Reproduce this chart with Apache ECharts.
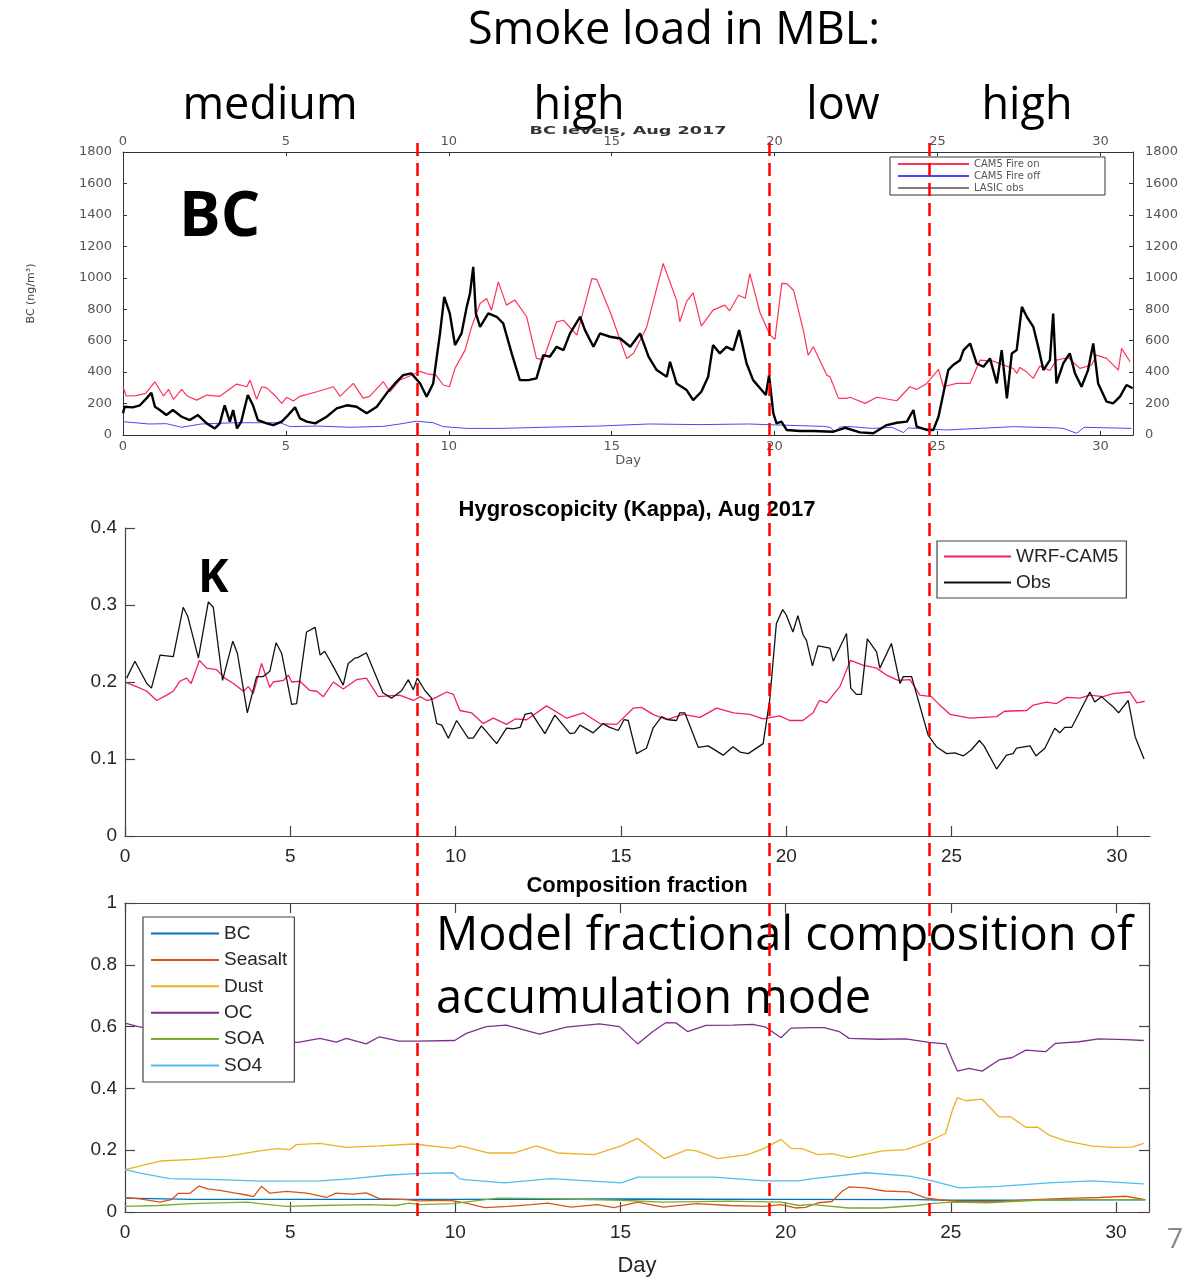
<!DOCTYPE html>
<html>
<head>
<meta charset="utf-8">
<title>BC, Kappa and composition, Aug 2017</title>
<script src="https://cdn.jsdelivr.net/npm/echarts@6/dist/echarts.min.js"></script>
<style>
  html, body { margin: 0; padding: 0; background: #fff; }
  #chart { width: 1196px; height: 1281px; }
</style>
</head>
<body>
<div id="chart"></div>
<script>
// ---- data: [day of Aug 2017, value] ----
const dayTicks = [0, 5, 10, 15, 20, 25, 30];
const smokeBreaks = [8.83, 19.48, 24.32];   // days where the smoke regime changes
const smokeLabels = ["medium", "high", "low", "high"];

// BC (ng/m3)
const bcFireOn = [[0,307],[0.1,248],[0.4,250],[0.7,265],[0.98,339],[1.24,248],[1.4,290],[1.55,227],[1.8,290],[1.96,250],[2.26,222],[2.57,254],[2.97,246],[3.49,324],[3.8,307],[3.9,349],[4.1,227],[4.26,307],[4.41,300],[4.67,250],[4.87,201],[5.02,240],[5.23,216],[5.43,246],[5.95,275],[6.46,307],[6.66,246],[7.07,328],[7.37,235],[7.57,246],[7.99,339],[8.19,275],[8.5,350],[8.8,375],[9.12,405],[9.4,385],[9.6,382],[9.83,318],[10.02,307],[10.19,424],[10.5,540],[10.7,688],[10.96,836],[11.16,868],[11.31,794],[11.52,974],[11.77,826],[12.03,858],[12.39,752],[12.69,487],[12.9,480],[13.31,720],[13.52,730],[13.93,635],[14.39,995],[14.54,990],[14.95,784],[15.46,487],[15.67,520],[16.07,684],[16.58,1091],[16.99,858],[17.09,720],[17.3,850],[17.5,904],[17.75,692],[18.11,794],[18.47,826],[18.62,790],[18.89,889],[19.1,870],[19.24,1027],[19.55,779],[19.86,635],[20.01,608],[20.22,964],[20.37,963],[20.58,921],[20.88,667],[21.03,508],[21.19,561],[21.6,381],[21.7,370],[21.96,233],[22.21,233],[22.31,240],[22.78,201],[23.14,240],[23.75,218],[24.15,307],[24.36,290],[24.67,328],[25.03,417],[25.18,307],[25.59,328],[26.0,328],[26.3,476],[26.71,470],[27.02,445],[27.33,423],[27.43,392],[27.53,430],[27.74,400],[27.94,360],[28.14,438],[28.45,410],[28.65,476],[29.01,493],[29.37,424],[29.73,445],[29.88,508],[30.19,487],[30.55,413],[30.65,551],[30.91,466]];
const bcFireOff = [[0,85],[0.8,70],[1.33,72],[1.8,49],[2.4,70],[3.4,78],[4.2,78],[4.83,78],[5.13,53],[5.95,57],[6.97,49],[7.99,55],[8.5,70],[9.0,88],[9.52,78],[9.83,53],[10.55,42],[11.57,42],[13.1,50],[14.6,57],[16.15,70],[17.67,66],[19.2,70],[20.2,63],[21.5,55],[21.7,49],[21.85,21],[22.0,50],[22.21,55],[23.0,42],[23.6,49],[23.96,15],[24.1,45],[24.4,42],[25.28,32],[27.33,53],[28.7,45],[28.86,42],[29.27,11],[29.5,49],[30.95,42]];
const bcObs = [[0,138],[0.05,180],[0.3,176],[0.52,189],[0.72,233],[0.87,269],[0.98,180],[1.13,159],[1.33,127],[1.53,159],[1.8,116],[2.05,95],[2.3,127],[2.57,74],[2.82,42],[2.97,74],[3.12,189],[3.28,85],[3.38,159],[3.5,42],[3.63,85],[3.83,254],[3.99,189],[4.14,95],[4.41,74],[4.61,63],[4.87,85],[5.07,127],[5.28,176],[5.43,106],[5.64,85],[5.9,74],[6.25,116],[6.56,169],[6.87,189],[7.17,180],[7.48,138],[7.79,180],[8.09,265],[8.35,328],[8.6,381],[8.85,392],[9.12,328],[9.32,243],[9.52,328],[9.73,646],[9.86,879],[10.03,773],[10.19,572],[10.39,646],[10.55,815],[10.65,900],[10.75,1069],[10.83,773],[10.96,688],[11.21,773],[11.47,752],[11.67,710],[11.93,519],[12.18,349],[12.44,349],[12.69,360],[12.9,508],[13.1,498],[13.31,561],[13.52,540],[13.72,646],[14.03,752],[14.18,667],[14.44,561],[14.64,646],[14.95,625],[15.26,614],[15.57,561],[15.87,646],[16.13,498],[16.38,413],[16.69,371],[16.79,466],[16.99,328],[17.3,286],[17.5,222],[17.75,275],[17.96,371],[18.11,572],[18.32,519],[18.52,561],[18.73,540],[18.91,667],[19.14,455],[19.34,349],[19.6,286],[19.73,254],[19.83,381],[19.96,138],[20.06,74],[20.21,85],[20.37,32],[20.78,25],[21.19,25],[21.8,21],[22.16,46],[22.62,17],[23.03,11],[23.44,63],[23.75,78],[24.06,85],[24.26,159],[24.36,53],[24.67,32],[24.87,32],[25.03,116],[25.18,265],[25.33,413],[25.48,445],[25.69,476],[25.8,540],[26.0,582],[26.2,455],[26.41,434],[26.61,487],[26.82,328],[26.97,540],[27.13,233],[27.28,519],[27.43,540],[27.59,815],[27.74,752],[27.94,688],[28.09,561],[28.25,413],[28.45,476],[28.55,773],[28.65,328],[28.86,455],[29.06,519],[29.22,392],[29.42,307],[29.62,413],[29.78,582],[29.93,328],[30.19,212],[30.39,201],[30.6,244],[30.8,318],[30.99,297]];

// Kappa
const kappaModel = [[0.05,0.199],[0.35,0.194],[0.66,0.188],[0.96,0.176],[1.26,0.183],[1.46,0.188],[1.66,0.201],[1.86,0.205],[2.0,0.198],[2.25,0.228],[2.47,0.218],[2.77,0.216],[3.02,0.205],[3.28,0.198],[3.58,0.188],[3.73,0.194],[3.88,0.185],[4.13,0.224],[4.38,0.193],[4.48,0.2],[4.79,0.202],[4.94,0.209],[5.04,0.2],[5.29,0.201],[5.59,0.189],[5.8,0.188],[6.0,0.181],[6.3,0.2],[6.6,0.191],[7.0,0.203],[7.3,0.205],[7.66,0.181],[7.96,0.182],[8.3,0.183],[8.73,0.176],[8.93,0.181],[9.13,0.176],[9.32,0.178],[9.73,0.187],[9.93,0.184],[10.13,0.163],[10.48,0.16],[10.83,0.146],[11.14,0.153],[11.54,0.145],[11.8,0.152],[12.15,0.151],[12.75,0.169],[13.36,0.153],[13.86,0.16],[14.36,0.146],[14.87,0.145],[15.37,0.166],[15.62,0.167],[15.97,0.158],[16.38,0.151],[16.88,0.158],[17.39,0.154],[17.89,0.166],[18.4,0.16],[18.9,0.158],[19.3,0.152],[19.8,0.156],[20.1,0.15],[20.5,0.15],[20.81,0.16],[21.0,0.176],[21.22,0.173],[21.62,0.194],[21.94,0.228],[22.32,0.222],[22.73,0.218],[23.03,0.209],[23.38,0.202],[23.74,0.203],[24.04,0.183],[24.39,0.181],[24.64,0.17],[24.95,0.158],[25.55,0.153],[26.36,0.155],[26.6,0.162],[27.27,0.163],[27.47,0.17],[27.87,0.174],[28.17,0.172],[28.48,0.18],[28.88,0.179],[29.18,0.183],[29.58,0.181],[29.88,0.185],[30.39,0.187],[30.6,0.173],[30.84,0.175]];
const kappaObs = [[0.05,0.205],[0.3,0.227],[0.66,0.198],[0.8,0.192],[1.06,0.235],[1.46,0.233],[1.76,0.297],[1.9,0.285],[2.22,0.231],[2.52,0.304],[2.67,0.297],[2.95,0.202],[3.26,0.253],[3.4,0.237],[3.7,0.16],[3.98,0.207],[4.18,0.207],[4.38,0.214],[4.57,0.251],[4.74,0.237],[5.04,0.171],[5.19,0.172],[5.49,0.265],[5.75,0.271],[5.9,0.235],[6.04,0.24],[6.3,0.22],[6.6,0.196],[6.75,0.224],[6.95,0.231],[7.05,0.232],[7.3,0.238],[7.8,0.186],[8.06,0.179],[8.37,0.189],[8.57,0.203],[8.72,0.19],[8.84,0.205],[9.07,0.189],[9.27,0.179],[9.43,0.146],[9.58,0.144],[9.78,0.127],[10.03,0.15],[10.38,0.127],[10.53,0.127],[10.78,0.143],[11.24,0.12],[11.54,0.14],[11.74,0.139],[11.95,0.141],[12.1,0.158],[12.29,0.16],[12.7,0.133],[13.0,0.157],[13.46,0.133],[13.6,0.134],[13.76,0.144],[14.16,0.134],[14.46,0.146],[14.66,0.141],[14.92,0.137],[15.09,0.151],[15.22,0.15],[15.47,0.107],[15.77,0.114],[15.97,0.14],[16.23,0.155],[16.43,0.151],[16.68,0.15],[16.78,0.16],[16.93,0.16],[17.34,0.115],[17.64,0.117],[18.09,0.105],[18.39,0.116],[18.6,0.109],[18.85,0.107],[19.3,0.12],[19.5,0.177],[19.7,0.276],[19.89,0.294],[20.0,0.287],[20.2,0.265],[20.35,0.286],[20.51,0.261],[20.61,0.254],[20.79,0.221],[20.96,0.247],[21.32,0.244],[21.42,0.227],[21.82,0.263],[21.95,0.192],[22.12,0.184],[22.27,0.184],[22.45,0.256],[22.73,0.239],[22.83,0.218],[23.18,0.25],[23.44,0.198],[23.54,0.207],[23.79,0.207],[24.29,0.131],[24.54,0.116],[24.85,0.107],[25.1,0.108],[25.35,0.104],[25.6,0.112],[25.84,0.124],[25.98,0.117],[26.36,0.087],[26.66,0.105],[26.86,0.107],[26.96,0.114],[27.37,0.117],[27.55,0.104],[27.82,0.114],[28.12,0.14],[28.27,0.134],[28.42,0.141],[28.63,0.141],[28.93,0.166],[29.18,0.187],[29.33,0.174],[29.53,0.181],[29.88,0.168],[30.05,0.16],[30.34,0.176],[30.55,0.129],[30.82,0.1]];

// composition fraction of the accumulation mode
const compBC = [[0,0.045],[2,0.041],[5,0.041],[10,0.041],[15,0.042],[20,0.041],[24,0.04],[25,0.038],[27,0.038],[30,0.04],[30.9,0.039]];
const compSeasalt = [[0,0.047],[0.5,0.042],[1.06,0.032],[1.4,0.04],[1.61,0.06],[1.96,0.06],[2.24,0.084],[2.5,0.075],[2.87,0.07],[3.3,0.062],[3.68,0.055],[3.89,0.05],[4.13,0.083],[4.38,0.061],[4.89,0.067],[5.5,0.061],[6.1,0.047],[6.39,0.061],[6.9,0.058],[7.3,0.062],[7.7,0.043],[8.41,0.041],[8.92,0.036],[9.83,0.038],[10.33,0.029],[10.89,0.014],[11.6,0.018],[12.3,0.024],[12.8,0.029],[13.5,0.016],[14.3,0.024],[14.8,0.014],[15.52,0.032],[16.3,0.016],[17.3,0.027],[18.3,0.021],[19.35,0.018],[19.86,0.024],[20.3,0.013],[20.6,0.015],[21.0,0.03],[21.4,0.034],[21.72,0.068],[21.92,0.081],[22.43,0.078],[23.0,0.068],[23.74,0.065],[24.24,0.046],[24.64,0.04],[25.25,0.034],[26.46,0.034],[27.5,0.04],[28.48,0.044],[29.5,0.047],[30.29,0.051],[30.84,0.041]];
const compDust = [[0,0.137],[0.5,0.15],[1.06,0.165],[2.07,0.17],[3.07,0.18],[4.08,0.198],[4.6,0.205],[4.99,0.202],[5.19,0.218],[5.9,0.222],[6.7,0.209],[7.7,0.214],[8.72,0.22],[9.93,0.206],[10.1,0.214],[10.28,0.211],[10.99,0.191],[11.79,0.191],[12.45,0.214],[13.1,0.191],[14.21,0.186],[15.02,0.214],[15.52,0.238],[16.33,0.173],[17.03,0.202],[17.3,0.198],[17.94,0.173],[18.85,0.186],[19.35,0.206],[19.86,0.235],[20.16,0.206],[20.5,0.205],[20.97,0.186],[21.4,0.189],[21.92,0.176],[22.93,0.198],[23.64,0.202],[24.24,0.224],[24.84,0.254],[25.05,0.33],[25.2,0.37],[25.45,0.36],[25.95,0.365],[26.46,0.308],[26.81,0.308],[27.27,0.274],[27.62,0.275],[27.97,0.249],[28.48,0.23],[29.28,0.213],[29.88,0.209],[30.49,0.21],[30.84,0.222]];
const compOC = [[0,0.611],[0.4,0.6],[1,0.59],[2,0.575],[3,0.565],[4,0.555],[5.24,0.549],[5.9,0.562],[6.4,0.55],[6.7,0.562],[7.3,0.544],[7.7,0.567],[8.3,0.553],[8.82,0.553],[9.98,0.555],[10.33,0.578],[10.94,0.6],[11.54,0.605],[12.55,0.576],[13.36,0.598],[14.36,0.609],[14.97,0.6],[15.52,0.544],[15.98,0.584],[16.38,0.613],[16.68,0.612],[17.03,0.584],[17.59,0.604],[18.4,0.605],[19.0,0.607],[19.4,0.598],[19.86,0.564],[20.16,0.595],[20.82,0.597],[21.17,0.597],[21.62,0.584],[21.92,0.562],[22.83,0.559],[23.64,0.56],[24.34,0.549],[24.85,0.544],[25.05,0.492],[25.2,0.456],[25.55,0.465],[25.95,0.456],[26.46,0.492],[26.86,0.5],[27.27,0.524],[27.87,0.519],[28.17,0.546],[28.88,0.551],[29.48,0.56],[30.29,0.558],[30.84,0.555]];
const compSOA = [[0,0.018],[1.0,0.021],[2.0,0.027],[3.7,0.032],[4.08,0.027],[4.89,0.018],[5.9,0.021],[7.4,0.024],[8.2,0.021],[8.6,0.029],[8.92,0.024],[9.93,0.027],[10.28,0.032],[11.3,0.045],[12.8,0.043],[15.0,0.038],[16.3,0.032],[18.3,0.035],[19.86,0.032],[20.41,0.021],[20.76,0.025],[21.9,0.013],[22.9,0.013],[23.94,0.021],[24.4,0.027],[25.0,0.032],[26.1,0.03],[27.6,0.038],[29.5,0.04],[30.84,0.04]];
const compSO4 = [[0,0.137],[0.5,0.125],[1.36,0.108],[2.87,0.105],[4.08,0.1],[5.9,0.101],[6.9,0.108],[7.91,0.119],[8.82,0.124],[9.93,0.127],[10.13,0.108],[10.28,0.105],[11.49,0.094],[12.9,0.108],[15.02,0.094],[15.52,0.113],[17.84,0.113],[19.35,0.101],[20.41,0.101],[20.76,0.107],[22.43,0.127],[23.74,0.116],[24.44,0.101],[25.25,0.078],[26.46,0.083],[27.97,0.094],[29.28,0.101],[30.84,0.091]];

const compNames = ["BC", "Seasalt", "Dust", "OC", "SOA", "SO4"];
const compColors = ["#0072BD", "#D95319", "#EDB120", "#7E2F8E", "#77AC30", "#4DBEEE"];
const compData = [compBC, compSeasalt, compDust, compOC, compSOA, compSO4];

// ---- styles ----
const oldFont = "DejaVu Sans, sans-serif";
const mlFont = "Liberation Sans, Arial, sans-serif";
const slideFont = "'Open Sans', 'Noto Sans', sans-serif";
const mlText = "#262626";

const myChart = echarts.init(document.getElementById("chart"));

// axis for the old-style BC panel (grey wide font, small inner ticks)
function bcAxis(extra) {
  return Object.assign({
    type: "value",
    gridIndex: 0,
    axisLine: { onZero: false, lineStyle: { color: "#333", width: 1 } },
    axisTick: { inside: true, length: 4, lineStyle: { color: "#333" } },
    axisLabel: { fontFamily: oldFont, fontSize: 13, color: "#555" },
    splitLine: { show: false }
  }, extra);
}

// axis for the MATLAB style kappa / composition panels
function mlAxis(extra, showLabel) {
  return Object.assign({
    type: "value",
    axisLine: { onZero: false, lineStyle: { color: "#444", width: 1.2 } },
    axisTick: { inside: true, length: 10, lineStyle: { color: "#444", width: 1.2 } },
    axisLabel: { show: showLabel, fontFamily: mlFont, fontSize: 19, color: mlText },
    splitLine: { show: false }
  }, extra);
}

const dayTickOpt = { inside: true, length: 10, customValues: dayTicks, lineStyle: { color: "#444", width: 1.2 } };
const plainNum = function (v) { return String(v); };

const option = {
  animation: false,
  backgroundColor: "#fff",
  grid: [
    { left: 123, top: 152, width: 1010, height: 283 },  // BC
    { left: 125, top: 528, width: 1025, height: 308 },  // kappa
    { left: 125, top: 903, width: 1024, height: 309 },  // composition
    { left: 125, top: 140, width: 1025, height: 1076, show: false } // dashed regime lines
  ],
  xAxis: [
    bcAxis({ position: "bottom", min: 0, max: 31,
      name: "Day", nameLocation: "middle", nameGap: 15,
      nameTextStyle: { fontFamily: oldFont, fontSize: 13, color: "#555" },
      axisTick: { inside: true, length: 4, customValues: dayTicks, lineStyle: { color: "#333" } },
      axisLabel: { customValues: dayTicks, margin: 5, fontFamily: oldFont, fontSize: 13, color: "#555" } }),
    bcAxis({ position: "top", min: 0, max: 31,
      axisTick: { inside: true, length: 4, customValues: dayTicks, lineStyle: { color: "#333" } },
      axisLabel: { customValues: dayTicks, margin: 4, fontFamily: oldFont, fontSize: 13, color: "#555" } }),
    mlAxis({ gridIndex: 1, min: 0, max: 31, position: "bottom",
      axisTick: dayTickOpt,
      axisLabel: { customValues: dayTicks, margin: 11, fontFamily: mlFont, fontSize: 19, color: mlText } }, true),
    mlAxis({ gridIndex: 2, min: 0, max: 31, position: "bottom",
      name: "Day", nameLocation: "middle", nameGap: 43,
      nameTextStyle: { fontFamily: mlFont, fontSize: 22, color: mlText },
      axisTick: dayTickOpt,
      axisLabel: { customValues: dayTicks, margin: 11, fontFamily: mlFont, fontSize: 19, color: mlText } }, true),
    mlAxis({ gridIndex: 2, min: 0, max: 31, position: "top", axisTick: dayTickOpt }, false),
    { type: "value", gridIndex: 3, min: 0, max: 31, show: false }
  ],
  yAxis: [
    bcAxis({ position: "left", min: 0, max: 1800, interval: 200,
      name: "BC (ng/m³)", nameLocation: "middle", nameGap: 86, nameRotate: 90,
      nameTextStyle: { fontFamily: oldFont, fontSize: 11, color: "#444" },
      axisLabel: { margin: 11, formatter: plainNum, fontFamily: oldFont, fontSize: 13, color: "#555" } }),
    bcAxis({ position: "right", min: 0, max: 1800, interval: 200,
      axisLabel: { margin: 12, formatter: plainNum, fontFamily: oldFont, fontSize: 13, color: "#555" } }),
    mlAxis({ gridIndex: 1, min: 0, max: 0.4, interval: 0.1, position: "left",
      axisLabel: { margin: 8, fontFamily: mlFont, fontSize: 19, color: mlText } }, true),
    mlAxis({ gridIndex: 2, min: 0, max: 1, interval: 0.2, position: "left",
      axisLabel: { margin: 8, fontFamily: mlFont, fontSize: 19, color: mlText } }, true),
    mlAxis({ gridIndex: 2, min: 0, max: 1, interval: 0.2, position: "right" }, false),
    { type: "value", gridIndex: 3, min: 0, max: 1, show: false }
  ],
  legend: [
    {
      orient: "vertical", left: 890, top: 157, padding: [2, 6, 2, 7],
      itemWidth: 71, itemHeight: 8, itemGap: 2, selectedMode: false,
      itemStyle: { opacity: 0 },
      borderColor: "#333", borderWidth: 1, backgroundColor: "#fff",
      textStyle: { fontFamily: oldFont, fontSize: 10, color: "#555", width: 125, lineHeight: 8 },
      data: ["CAM5 Fire on", "CAM5 Fire off", { name: "LASIC obs", lineStyle: { width: 1, color: "#000" } }]
    },
    {
      orient: "vertical", left: 937, top: 541, padding: [6, 8, 6, 6],
      itemWidth: 67, itemHeight: 20, itemGap: 7, selectedMode: false,
      itemStyle: { opacity: 0 },
      borderColor: "#444", borderWidth: 1.2, backgroundColor: "#fff",
      textStyle: { fontFamily: mlFont, fontSize: 19, color: mlText, width: 115 },
      data: ["WRF-CAM5", "Obs"]
    },
    {
      orient: "vertical", left: 143, top: 917, padding: [7, 7, 7, 7],
      itemWidth: 68, itemHeight: 20, itemGap: 7.4, selectedMode: false,
      itemStyle: { opacity: 0 },
      borderColor: "#444", borderWidth: 1.2, backgroundColor: "#fff",
      textStyle: { fontFamily: mlFont, fontSize: 19, color: mlText, width: 70 },
      data: compNames
    }
  ],
  series: [
    { name: "CAM5 Fire on", type: "line", xAxisIndex: 0, yAxisIndex: 0, data: bcFireOn,
      symbol: "none", lineStyle: { color: "#ff3358", width: 1.2 }, itemStyle: { color: "#ff3358" } },
    { name: "CAM5 Fire off", type: "line", xAxisIndex: 0, yAxisIndex: 0, data: bcFireOff,
      symbol: "none", lineStyle: { color: "#4646ff", width: 1 }, itemStyle: { color: "#4646ff" } },
    { name: "LASIC obs", type: "line", xAxisIndex: 0, yAxisIndex: 0, data: bcObs,
      symbol: "none", lineStyle: { color: "#000", width: 2.4 }, itemStyle: { color: "#000" } },

    { name: "WRF-CAM5", type: "line", xAxisIndex: 2, yAxisIndex: 2, data: kappaModel,
      symbol: "none", lineStyle: { color: "#f5205a", width: 1.3 }, itemStyle: { color: "#f5205a" } },
    { name: "Obs", type: "line", xAxisIndex: 2, yAxisIndex: 2, data: kappaObs,
      symbol: "none", lineStyle: { color: "#111", width: 1.3 }, itemStyle: { color: "#111" } }
  ].concat(compNames.map(function (name, i) {
    return { name: name, type: "line", xAxisIndex: 3, yAxisIndex: 3, data: compData[i],
      symbol: "none", lineStyle: { color: compColors[i], width: 1.3 }, itemStyle: { color: compColors[i] } };
  })).concat([
    // red dashed lines marking the smoke regimes, across all three panels
    { name: "regimes", type: "line", xAxisIndex: 5, yAxisIndex: 5, data: [], z: 10, silent: true,
      markLine: { symbol: ["none", "none"], silent: true, animation: false, label: { show: false },
        lineStyle: { color: "#ff0000", type: [13, 7], width: 2.5 },
        data: smokeBreaks.map(function (d) { return { xAxis: d }; }) } }
  ]),
  graphic: [
    { type: "text", x: 674, y: 31, z: 5, style: { text: "Smoke load in MBL:", font: "45px " + slideFont, fill: "#000", textAlign: "center", textVerticalAlign: "middle", verticalAlign: "middle" } },
    { type: "text", x: 270, y: 106, z: 5, style: { text: smokeLabels[0], font: "45px " + slideFont, fill: "#000", textAlign: "center", textVerticalAlign: "middle", verticalAlign: "middle" } },
    { type: "text", x: 579, y: 106, z: 5, style: { text: smokeLabels[1], font: "45px " + slideFont, fill: "#000", textAlign: "center", textVerticalAlign: "middle", verticalAlign: "middle" } },
    { type: "text", x: 843, y: 106, z: 5, style: { text: smokeLabels[2], font: "45px " + slideFont, fill: "#000", textAlign: "center", textVerticalAlign: "middle", verticalAlign: "middle" } },
    { type: "text", x: 1027, y: 106, z: 5, style: { text: smokeLabels[3], font: "45px " + slideFont, fill: "#000", textAlign: "center", textVerticalAlign: "middle", verticalAlign: "middle" } },
    { type: "text", x: 628, y: 131, scaleX: 1.6, z: 5, style: { text: "BC levels, Aug 2017", font: "bold 11px " + oldFont, fill: "#333", textAlign: "center", textVerticalAlign: "middle", verticalAlign: "middle" } },
    { type: "text", x: 179, y: 218, z: 5, style: { text: "BC", font: "bold 62px " + slideFont, fill: "#000", textAlign: "left", textVerticalAlign: "middle", verticalAlign: "middle" } },
    { type: "text", x: 637, y: 510, z: 5, style: { text: "Hygroscopicity (Kappa), Aug 2017", font: "bold 22px " + mlFont, fill: "#000", textAlign: "center", textVerticalAlign: "middle", verticalAlign: "middle" } },
    { type: "text", x: 198, y: 579, z: 5, style: { text: "K", font: "bold 46px " + slideFont, fill: "#000", textAlign: "left", textVerticalAlign: "middle", verticalAlign: "middle" } },
    { type: "text", x: 637, y: 886, z: 5, style: { text: "Composition fraction", font: "bold 22px " + mlFont, fill: "#000", textAlign: "center", textVerticalAlign: "middle", verticalAlign: "middle" } },
    { type: "text", x: 436, y: 937, z: 5, style: { text: "Model fractional composition of", font: "47px " + slideFont, fill: "#000", textAlign: "left", textVerticalAlign: "middle", verticalAlign: "middle" } },
    { type: "text", x: 436, y: 1000, z: 5, style: { text: "accumulation mode", font: "47px " + slideFont, fill: "#000", textAlign: "left", textVerticalAlign: "middle", verticalAlign: "middle" } },
    { type: "text", x: 1175, y: 1240, z: 5, style: { text: "7", font: "28px " + slideFont, fill: "#888", textAlign: "center", textVerticalAlign: "middle", verticalAlign: "middle" } }
  ]
};

myChart.setOption(option);
</script>
</body>
</html>
